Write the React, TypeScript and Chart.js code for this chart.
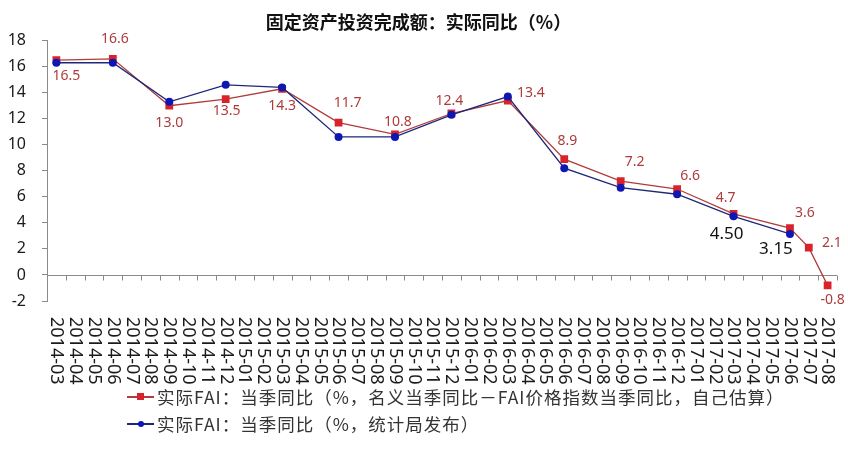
import { useEffect, useRef } from 'react'
import { Chart, registerables } from 'chart.js'

Chart.register(...registerables)

const months = [
  '2014-03', '2014-04', '2014-05', '2014-06', '2014-07', '2014-08', '2014-09', '2014-10', '2014-11', '2014-12',
  '2015-01', '2015-02', '2015-03', '2015-04', '2015-05', '2015-06', '2015-07', '2015-08', '2015-09', '2015-10',
  '2015-11', '2015-12', '2016-01', '2016-02', '2016-03', '2016-04', '2016-05', '2016-06', '2016-07', '2016-08',
  '2016-09', '2016-10', '2016-11', '2016-12', '2017-01', '2017-02', '2017-03', '2017-04', '2017-05', '2017-06',
  '2017-07', '2017-08',
]

// 自己估算
const redMonths = [
  '2014-03', '2014-06', '2014-09', '2014-12', '2015-03', '2015-06', '2015-09', '2015-12',
  '2016-03', '2016-06', '2016-09', '2016-12', '2017-03', '2017-06', '2017-07', '2017-08',
]
const redValues = [16.5, 16.6, 13.0, 13.5, 14.3, 11.7, 10.8, 12.4, 13.4, 8.9, 7.2, 6.6, 4.7, 3.6, 2.1, -0.8]

// 统计局发布
const blueMonths = [
  '2014-03', '2014-06', '2014-09', '2014-12', '2015-03', '2015-06', '2015-09', '2015-12',
  '2016-03', '2016-06', '2016-09', '2016-12', '2017-03', '2017-06',
]
const blueValues = [16.3, 16.3, 13.3, 14.6, 14.4, 10.6, 10.6, 12.3, 13.7, 8.2, 6.7, 6.2, 4.50, 3.15]
const blueLabelled = ['2017-03', '2017-06']

const titleText = '固定资产投资完成额：实际同比（%）'
const redName = '实际FAI：当季同比（%，名义当季同比－FAI价格指数当季同比，自己估算）'
const blueName = '实际FAI：当季同比（%，统计局发布）'

// label nudges (px) so numbers sit where the original put them
const redNudge = [
  [10, 16], [2, -20], [0, 17], [1, 12], [0, 17], [9, -20], [3, -12], [-2, -12],
  [23, -7], [3, -18], [14, -19], [13, -13], [-8, -16], [15, -15], [23, -5], [5, 15],
]
const blueNudge = [[-7, 18], [-14, 15]]

const RED_LINE = '#B13C3D'
const RED_MARK = '#D7242B'
const BLUE_LINE = '#1E2878'
const BLUE_MARK = '#0E16B4'
const AXIS = '#8a8a8a'
const SANS = '"Noto Sans", "Noto Sans CJK SC", sans-serif'
const CJK = '"Noto Sans CJK SC", "Noto Sans", sans-serif'

const zeroAxis = {
  id: 'zeroAxis',
  beforeDatasetsDraw(chart: any) {
    const { ctx, chartArea, scales } = chart
    const y0 = Math.round(scales.y.getPixelForValue(0)) + 0.5
    const x = scales.x
    const step = x.getPixelForValue(1) - x.getPixelForValue(0)
    ctx.save()
    ctx.strokeStyle = AXIS
    ctx.lineWidth = 1
    ctx.beginPath()
    ctx.moveTo(chartArea.left, y0)
    ctx.lineTo(chartArea.right, y0)
    for (let i = 0; i <= months.length; i++) {
      const px = Math.round(x.getPixelForValue(i) - step / 2) + 0.5
      ctx.moveTo(px, y0)
      ctx.lineTo(px, y0 + 5)
    }
    ctx.stroke()
    ctx.restore()
  },
}

const valueLabels = {
  id: 'valueLabels',
  afterDatasetsDraw(chart: any) {
    const { ctx } = chart
    ctx.save()
    ctx.textAlign = 'center'
    ctx.textBaseline = 'middle'
    const red = chart.getDatasetMeta(0)
    ctx.font = '14px ' + SANS
    ctx.fillStyle = '#AE3B3B'
    red.data.forEach((pt: any, i: number) => {
      const [dx, dy] = redNudge[i]
      ctx.fillText(redValues[i].toFixed(1), pt.x + dx, pt.y + dy)
    })
    const blue = chart.getDatasetMeta(1)
    ctx.font = '17px ' + SANS
    ctx.fillStyle = '#111'
    blueLabelled.forEach((m, k) => {
      const i = blueMonths.indexOf(m)
      const pt = blue.data[i]
      const [dx, dy] = blueNudge[k]
      ctx.fillText(blueValues[i].toFixed(2), pt.x + dx, pt.y + dy)
    })
    ctx.restore()
  },
}

// month labels read top-to-bottom, as in the original
const monthLabels = {
  id: 'monthLabels',
  afterDraw(chart: any) {
    const { ctx, chartArea, scales } = chart
    ctx.save()
    ctx.font = '18px ' + SANS
    ctx.fillStyle = '#1a1a1a'
    ctx.textAlign = 'left'
    ctx.textBaseline = 'middle'
    months.forEach((m, i) => {
      ctx.save()
      ctx.translate(scales.x.getPixelForValue(i), chartArea.bottom + 16)
      ctx.rotate(Math.PI / 2)
      ctx.fillText(m, 0, 0)
      ctx.restore()
    })
    ctx.restore()
  },
}

function LegendRow({ line, mark, round, text }: { line: string; mark: string; round: boolean; text: string }) {
  return (
    <div style={{ display: 'flex', alignItems: 'center', height: 27 }}>
      <span style={{ position: 'relative', flex: '0 0 27px', height: 27, marginRight: 3 }}>
        <span style={{ position: 'absolute', left: 0, right: 0, top: 13, height: 1.5, background: line }} />
        <span
          style={{
            position: 'absolute',
            left: round ? 10.5 : 10,
            top: round ? 10.5 : 10,
            width: round ? 6 : 7,
            height: round ? 6 : 7,
            borderRadius: round ? '50%' : 0,
            background: mark,
          }}
        />
      </span>
      <span style={{ whiteSpace: 'nowrap' }}>{text}</span>
    </div>
  )
}

export default function App() {
  const canvasRef = useRef<HTMLCanvasElement>(null)

  useEffect(() => {
    if (!canvasRef.current) return
    const chart = new Chart(canvasRef.current, {
      type: 'line',
      data: {
        labels: months,
        datasets: [
          {
            label: redName,
            data: redMonths.map((m, i) => ({ x: m, y: redValues[i] })),
            borderColor: RED_LINE,
            borderWidth: 1.3,
            pointStyle: 'rect',
            pointRadius: 5.5,
            pointBackgroundColor: RED_MARK,
            pointBorderColor: RED_MARK,
            pointBorderWidth: 0,
            tension: 0,
            order: 1,
          },
          {
            label: blueName,
            data: blueMonths.map((m, i) => ({ x: m, y: blueValues[i] })),
            borderColor: BLUE_LINE,
            borderWidth: 1.3,
            pointStyle: 'circle',
            pointRadius: 4,
            pointBackgroundColor: BLUE_MARK,
            pointBorderColor: BLUE_MARK,
            pointBorderWidth: 0,
            tension: 0,
            order: 0,
          },
        ],
      },
      options: {
        animation: false,
        responsive: true,
        maintainAspectRatio: false,
        layout: { padding: { left: 0, right: 11, top: 0, bottom: 86 } },
        scales: {
          x: {
            type: 'category',
            offset: true,
            ticks: { display: false },
            grid: { display: false },
            border: { display: false },
            afterFit: (scale: any) => {
              scale.height = 85
            },
          },
          y: {
            min: -2,
            max: 18,
            ticks: {
              stepSize: 2,
              color: '#1a1a1a',
              padding: 16,
              font: { family: SANS, size: 16 },
            },
            grid: { drawOnChartArea: false, color: AXIS, tickLength: 5 },
            border: { color: AXIS },
            afterFit: (scale: any) => {
              scale.width = 47
            },
          },
        },
        plugins: {
          legend: { display: false },
          tooltip: { enabled: false },
          title: {
            display: true,
            text: titleText,
            color: '#111',
            font: { family: CJK, size: 18, weight: 'bold' },
            padding: { top: 11, bottom: 8 },
          },
        },
      },
      plugins: [zeroAxis, valueLabels, monthLabels],
    })

    return () => {
      chart.destroy()
    }
  }, [])

  return (
    <div style={{ position: 'fixed', left: 0, top: 0, width: 848, height: 472, background: '#fff' }}>
      <canvas ref={canvasRef} style={{ display: 'block' }} />
      <div
        style={{
          position: 'absolute',
          left: 127,
          top: 383,
          fontFamily: CJK,
          fontSize: 17.5,
          letterSpacing: 1,
          color: '#333',
        }}
      >
        <LegendRow line={RED_LINE} mark={RED_MARK} round={false} text={redName} />
        <LegendRow line={BLUE_LINE} mark={BLUE_MARK} round={true} text={blueName} />
      </div>
    </div>
  )
}
